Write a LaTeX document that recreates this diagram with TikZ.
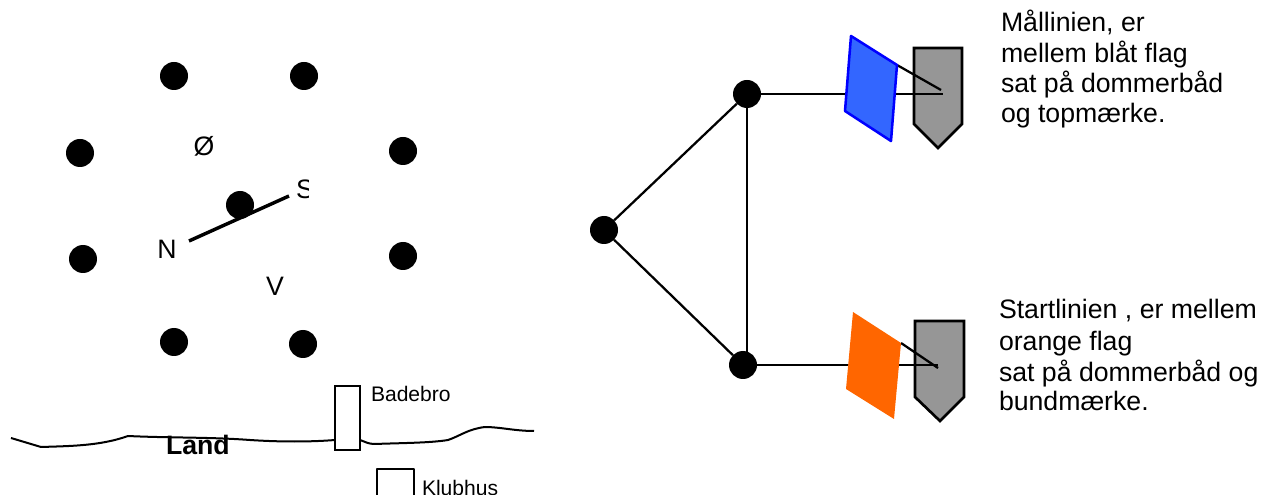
\documentclass[tikz,border=0pt]{standalone}
\usepackage{fontspec}
\setmainfont{Liberation Sans}
\definecolor{boatgray}{HTML}{969696}
\definecolor{flagblue}{HTML}{3366FF}
\definecolor{edgeblue}{HTML}{0000FF}
\definecolor{flagorange}{HTML}{FF6600}
\tikzset{
  dot/.style={circle,fill=black,draw=none,minimum size=21pt,inner sep=0pt,outer sep=0pt},
  edge/.style={draw=black,line width=1.7pt,line join=miter},
  heavy edge/.style={draw=black,line width=2.6pt},
  thin edge/.style={draw=black,line width=1.5pt,line join=round},
  boat/.style={draw=black,line width=2pt,fill=boatgray,line join=miter},
  lbl/.style={inner sep=0pt,outer sep=0pt,font=\fontsize{20}{24}\selectfont},
  tlbl/.style={lbl,anchor=base west},
  slbl/.style={inner sep=0pt,outer sep=0pt,font=\fontsize{15.8}{19}\selectfont,anchor=base west}
}
\begin{document}
\begin{tikzpicture}[x=0.75pt,y=-0.75pt]
\useasboundingbox (0,0) rectangle (1261,495);
% left field
\foreach \n/\x/\y in {a/174/76,b/304/76,c/80/153,d/403/151,e/240/205,f/83/259,g/403/256,h/174/342,i/303/344}
  \node[dot] (\n) at (\x,\y) {};
\coordinate (cn) at (189,241);
\coordinate (cs) at (289,196);
\draw[heavy edge] (cn) -- (cs);
\node[lbl] (lo) at (204,146) {Ø};
\node[lbl] (ln) at (167,249) {N};
\node[lbl] (lv) at (275,286) {V};
\begin{scope}
\clip (290,170) rectangle (308,210);
\node[lbl] (ls) at (305,189) {S};
\end{scope}
% shore
\draw[thin edge] (11,438) -- (41,447) .. controls (70,446) and (100,446) .. (128,436)
  .. controls (170,438) and (210,437) .. (250,440) .. controls (280,442) and (310,442) .. (335,440);
\draw[thin edge] (360,440) .. controls (366,442) and (368,444) .. (375,444)
  .. controls (400,443) and (430,443) .. (448,440) .. controls (460,436) and (468,429) .. (485,427)
  .. controls (500,427) and (515,431) .. (534,431);
\node[draw=black,line width=1.5pt,fill=white,minimum width=19pt,minimum height=48pt,inner sep=0pt] (bro) at (347.5,418) {};
\node[slbl] (lb) at (371,402) {Badebro};
\draw[thin edge] (377,495) -- (377,469) -- (414,469) -- (414,495);
\node[slbl] (lk) at (422,495) {Klubhus};
\node[tlbl,font=\fontsize{20}{24}\bfseries\selectfont] (ll) at (166,455) {Land};
% right course
\node[dot] (p) at (604,230) {};
\node[dot] (q) at (747,94) {};
\node[dot] (r) at (743,365) {};
\draw[edge] (p) -- (q);
\draw[edge] (p) -- (r);
\draw[edge] (q) -- (q|-r);
% finish
\draw[boat] (914,48) -- (962,48) -- (962,124) -- (938,148) -- (914,124) -- cycle;
\coordinate (m1) at (943,94);
\coordinate (m2) at (941,90);
\coordinate (fb) at (897,65);
\draw[edge] (q) -- (m1);
\draw[edge] (fb) -- (m2);
\draw[draw=edgeblue,fill=flagblue,line width=1.9pt,line join=round] (851,36) -- (897,65) -- (891,141) -- (845,111) -- cycle;
% start
\draw[boat] (915,321) -- (964,321) -- (964,397) -- (940,421) -- (915,397) -- cycle;
\coordinate (m3) at (938,368);
\coordinate (m4) at (938,365);
\coordinate (fo) at (901,343);
\draw[edge] (r) -- (m4);
\draw[edge] (fo) -- (m3);
\fill[flagorange] (853,312) -- (901,343) -- (894,419) -- (846,389) -- cycle;
% texts
\node[tlbl] (t1) at (1001,32) {Mållinien, er};
\node[tlbl] (t2) at (1001,63) {mellem blåt flag};
\node[tlbl] (t3) at (1001,93) {sat på dommerbåd};
\node[tlbl] (t4) at (1001,123) {og topmærke.};
\node[tlbl] (t5) at (999,319) {Startlinien , er mellem};
\node[tlbl] (t6) at (999,351) {orange flag};
\node[tlbl] (t7) at (999,382) {sat på dommerbåd og};
\node[tlbl] (t8) at (999,411) {bundmærke.};
\end{tikzpicture}
\end{document}
